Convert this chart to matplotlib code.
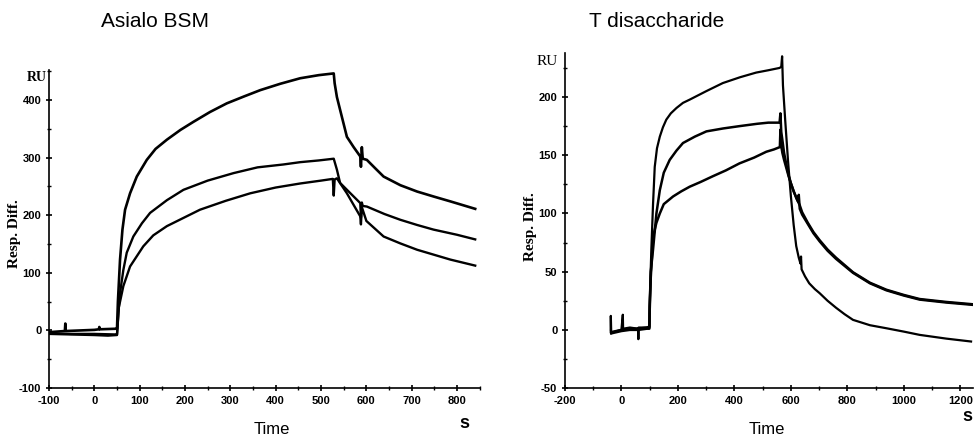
"""
SPR sensorgrams: Asialo BSM and T disaccharide
"""
import matplotlib
matplotlib.use("Agg")
import matplotlib.pyplot as plt
from matplotlib.ticker import MultipleLocator

plt.rcParams["axes.unicode_minus"] = False

# Asialo BSM (time in s, response in RU)
bsm_top_t = [-100, -65, -64, -63, 0, 10, 11, 12, 49, 50, 52, 56.7, 62, 67.8, 78.8, 93.6, 115.7, 135,
             160, 190, 218.6, 255, 292, 330, 366, 410, 454, 495, 528, 530, 535, 542, 550, 557,
             572, 586.5, 588, 590, 592, 601, 620, 638, 675, 712, 750, 785, 840]
bsm_top_y = [-3, -1, 12, -1, 1, 2, 6, 2, 3, 3, 50, 123, 175, 209.5, 238, 267, 296, 315,
             331, 348, 362, 379, 394, 406, 417, 428, 437.6, 443, 446, 429, 405, 383, 358, 336,
             318, 302, 284, 318, 298, 296, 281, 267, 252, 241, 232, 224, 211]
bsm_mid_t = [-100, -50, 0, 49, 50, 53, 56.7, 64, 71.5, 86, 105, 123, 160, 196.5, 250, 307, 360,
             417, 454, 495, 528, 535, 542, 561, 586.5, 588, 590, 592, 601, 640, 675, 712, 748,
             800, 840]
bsm_mid_y = [-5, -6, -6, -7, -7, 30, 65, 105, 135, 163, 186, 204, 226, 244, 260, 273, 283,
             288, 292, 295, 298, 279, 256, 241, 221, 196, 222, 216, 215, 202, 192, 183, 175,
             166, 158]
bsm_low_t = [-100, -50, 0, 30, 49, 50, 54, 64, 78.8, 108, 130, 160, 233, 290, 344, 400, 454,
             500, 526, 528, 530, 535, 557, 586.5, 588, 590, 600, 638, 675, 712, 785, 840]
bsm_low_y = [-6, -7, -8, -9, -8, -8, 40, 77, 111, 146, 165, 181, 209.5, 225, 238, 248, 255,
             260, 263, 234, 262, 264, 238, 198, 184, 214, 190, 163, 151, 140, 123, 112.5]

# T disaccharide
tdi_top_t = [-38, -37.5, -36, -30, 0, 5, 6, 30, 59, 60, 61, 90, 99, 100, 103, 106, 112, 118,
             126, 136, 147, 159, 175, 195, 218, 242, 300, 359, 420, 477, 520, 560, 566, 569,
             572, 580, 590, 600, 610, 619, 628, 634, 636, 638, 650, 665, 685, 702, 730, 760,
             790, 820, 880, 938, 1000, 1056, 1150, 1238]
tdi_top_y = [0, 12, -3, -2, 0, 13, 1, 2, 1, -8, 2, 2, 3, 20, 45, 69, 108, 140,
             156, 166, 174, 180.6, 186, 190.6, 195, 197.8, 205, 212, 217, 221, 223, 225, 226, 235,
             210, 180, 145, 115, 90, 72, 62, 57, 63, 52, 46, 40, 35, 31.5, 25, 19,
             13.5, 8.6, 4, 1.4, -1.5, -4.3, -7.5, -10]
tdi_mid_t = [-37, 0, 30, 60, 90, 99, 100, 104, 112, 124, 136, 150, 171, 195, 218, 260, 301,
             360, 418, 480, 520, 560, 563, 566, 570, 576, 584, 592, 600, 610, 620, 626, 628,
             631.5, 640, 660, 680, 702, 730, 760, 820, 880, 938, 1000, 1056, 1150, 1244]
tdi_mid_y = [-2, 0, 1, 1, 2, 2, 20, 50, 69, 100, 120, 135, 146, 154, 160.5, 166, 170.5,
             173, 175, 177, 178, 178, 186, 170, 163, 152, 142, 133, 126, 119, 113, 110, 116,
             104, 99, 91, 83, 76, 68, 61, 49, 40, 34, 29.5, 26, 23.5, 21.5]
tdi_low_t = [-36, 0, 30, 60, 90, 99, 100, 104, 112, 124, 136, 150, 183, 212, 242, 280, 324,
             370, 418, 470, 513, 540, 561, 563, 566, 570, 576, 584, 592, 600, 610, 620, 631.5,
             640, 660, 680, 702, 730, 760, 820, 880, 938, 1000, 1056, 1150, 1244]
tdi_low_y = [-3, -1, 0, 0, 1, 1, 15, 45, 80, 92, 100, 108, 114.6, 119, 123, 127, 132,
             137, 143, 148, 153, 155, 157, 172, 158, 152, 146, 139, 132, 126, 119, 113, 107,
             101, 92, 84, 77, 69, 62, 49.5, 40.5, 34.5, 30, 26.5, 24, 22]

tick_font = {"family": ["Liberation Sans Narrow", "Liberation Sans", "DejaVu Sans"],
             "weight": "bold", "size": 8}
serif = ["Liberation Serif", "DejaVu Serif"]
sans = ["Liberation Sans", "DejaVu Sans"]


def style_axes(ax, xmaj, ymaj):
    for side in ("top", "right"):
        ax.spines[side].set_visible(False)
    for side in ("left", "bottom"):
        ax.spines[side].set_linewidth(1.2)
    ax.xaxis.set_major_locator(MultipleLocator(xmaj))
    ax.xaxis.set_minor_locator(MultipleLocator(xmaj / 2))
    ax.yaxis.set_major_locator(MultipleLocator(ymaj))
    ax.yaxis.set_minor_locator(MultipleLocator(ymaj / 2))
    ax.tick_params(which="major", direction="inout", length=5, width=1.2, pad=3)
    ax.tick_params(which="minor", direction="inout", length=3, width=1.0)
    for lab in ax.get_xticklabels() + ax.get_yticklabels():
        lab.set_fontproperties(tick_font)


fig = plt.figure(figsize=(9.74, 4.40), dpi=100)

ax1 = fig.add_axes([0.0503, 0.118, 0.4427, 0.723])
for t, y, lw in [(bsm_top_t, bsm_top_y, 1.9), (bsm_mid_t, bsm_mid_y, 1.7), (bsm_low_t, bsm_low_y, 1.7)]:
    ax1.plot(t, y, color="black", lw=lw, solid_joinstyle="round")
ax1.set_xlim(-100, 851)
ax1.set_ylim(-100, 452)
style_axes(ax1, 100, 100)

ax2 = fig.add_axes([0.580, 0.118, 0.419, 0.762])
for t, y, lw in [(tdi_top_t, tdi_top_y, 1.6), (tdi_mid_t, tdi_mid_y, 1.8), (tdi_low_t, tdi_low_y, 1.8)]:
    ax2.plot(t, y, color="black", lw=lw, solid_joinstyle="round")
ax2.set_xlim(-200, 1245)
ax2.set_ylim(-50, 238)
style_axes(ax2, 200, 50)

# titles, axis labels and units
fig.text(0.159, 0.952, "Asialo BSM", family=sans, fontsize=15, ha="center", va="center")
fig.text(0.6745, 0.952, "T disaccharide", family=sans, fontsize=15, ha="center", va="center")
fig.text(0.279, 0.023, "Time", family=sans, fontsize=12, ha="center", va="center")
fig.text(0.7875, 0.023, "Time", family=sans, fontsize=12, ha="center", va="center")
fig.text(0.477, 0.038, "s", family=sans, fontsize=13, weight="bold", ha="center", va="center")
fig.text(0.993, 0.054, "s", family=sans, fontsize=13, weight="bold", ha="center", va="center")
fig.text(0.0145, 0.468, "Resp. Diff.", family=serif, fontsize=11, weight="bold", rotation=90,
         ha="center", va="center")
fig.text(0.5445, 0.484, "Resp. Diff.", family=serif, fontsize=11, weight="bold", rotation=90,
         ha="center", va="center")
fig.text(0.028, 0.825, "RU", family=serif, fontsize=10, weight="bold", ha="left", va="center")
fig.text(0.551, 0.861, "RU", family=serif, fontsize=11, ha="left", va="center")

fig.savefig("out.png", dpi=100)
